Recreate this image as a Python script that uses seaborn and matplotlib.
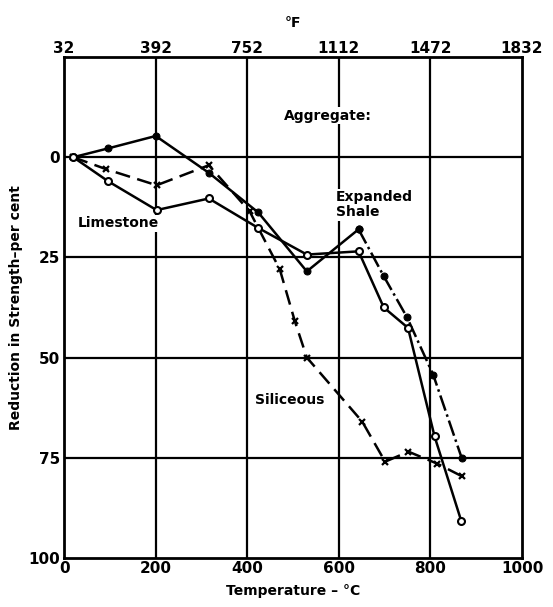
# Reduction in strength of concrete vs temperature, by aggregate type

import pandas as pd
import seaborn as sns
import matplotlib.pyplot as plt

# data
shale_t = [20, 96, 200, 316, 424, 530, 643, 698, 749, 806, 868]
shale_r = [0, -2.2, -5.3, 3.9, 13.8, 28.5, 18.0, 29.7, 40, 54.3, 75]

lime_t = [20, 96, 202, 316, 423, 530, 643, 698, 751, 809, 867]
lime_r = [0, 6, 13.2, 10.3, 17.6, 24.3, 23.5, 37.5, 42.6, 69.7, 90.7]

sil_t = [20, 92, 202, 316, 405, 471, 504, 530, 651, 701, 752, 815, 868]
sil_r = [0, 3, 7, 2, 13.5, 28, 41, 50, 66, 76, 73.5, 76.5, 79.6]

c_ticks = [0, 200, 400, 600, 800, 1000]
f_labels = ["32", "392", "752", "1112", "1472", "1832"]
r_ticks = [0, 25, 50, 75, 100]

sns.set_style("white")
plt.rcParams["font.family"] = ["DejaVu Sans"]
plt.rcParams["font.weight"] = "bold"
for k in ["text.color", "axes.labelcolor", "xtick.color", "ytick.color"]:
    plt.rcParams[k] = "black"

fig = plt.figure(figsize=(5.53, 6.07), dpi=100)
ax = fig.add_axes([0.116, 0.081, 0.828, 0.825])

# grid
for t in c_ticks[1:-1]:
    ax.axvline(t, color="black", lw=1.6, zorder=1)
for r in r_ticks[:-1]:
    ax.axhline(r, color="black", lw=1.6, zorder=1)

shale = pd.DataFrame({"t": shale_t, "r": shale_r})
lime = pd.DataFrame({"t": lime_t, "r": lime_r})
sil = pd.DataFrame({"t": sil_t, "r": sil_r})

# expanded shale: solid up to the peak, dash-dot after it
sns.lineplot(data=shale.iloc[:7], x="t", y="r", ax=ax, sort=False, color="black",
             lw=1.8, marker="o", ms=5, mfc="black", mec="black", zorder=3)
sns.lineplot(data=shale.iloc[6:], x="t", y="r", ax=ax, sort=False, color="black",
             lw=1.8, linestyle="-.", marker="o", ms=5, mfc="black", mec="black", zorder=3)
sns.lineplot(data=lime, x="t", y="r", ax=ax, sort=False, color="black",
             lw=1.8, marker="o", ms=5, mfc="white", mec="black", mew=1.5, zorder=4)
sns.lineplot(data=sil, x="t", y="r", ax=ax, sort=False, color="black",
             lw=1.8, linestyle=(0, (6, 3)), marker="x", ms=5, mec="black", mew=1.6, zorder=3)

ax.set_xlim(0, 1000)
ax.set_ylim(100, -25)
ax.set_xticks(c_ticks)
ax.set_yticks(r_ticks)
ax.tick_params(length=0, labelsize=11, pad=2)
ax.tick_params(axis="y", pad=3)
ax.set_xlabel("Temperature – °C", fontsize=10, fontweight="bold", labelpad=6)
ax.set_ylabel("Reduction in Strength–per cent", fontsize=10, fontweight="bold", labelpad=4)
for s in ax.spines.values():
    s.set_color("black")
    s.set_linewidth(2)

top = ax.twiny()
top.set_xlim(ax.get_xlim())
top.set_xticks(c_ticks)
top.set_xticklabels(f_labels)
top.tick_params(length=0, labelsize=11, pad=1)
top.set_xlabel("°F", fontsize=10, fontweight="bold", labelpad=10)
for s in top.spines.values():
    s.set_visible(False)

box = dict(facecolor="white", edgecolor="none", pad=1)
ax.text(576, -10.4, "Aggregate:", ha="center", va="center", fontsize=10, bbox=box, zorder=2)
ax.text(594, 8.2, "Expanded\nShale", ha="left", va="top", fontsize=10,
        linespacing=1.1, bbox=box, zorder=2)
ax.text(30, 16.5, "Limestone", ha="left", va="center", fontsize=10, bbox=box, zorder=2)
ax.text(417, 60.7, "Siliceous", ha="left", va="center", fontsize=10, bbox=box, zorder=2)

ax.set_facecolor("white")
fig.savefig("out.png", dpi=100, facecolor="white")
